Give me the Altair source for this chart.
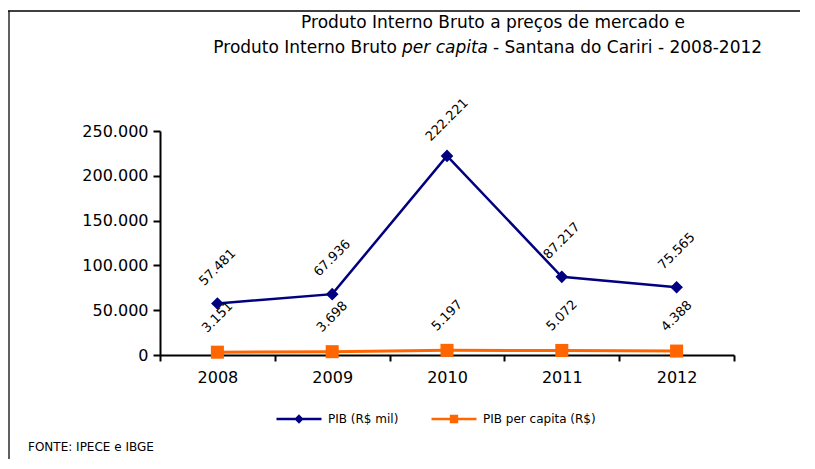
import altair as alt
import pandas as pd

years = ["2008", "2009", "2010", "2011", "2012"]
pib = [57481, 67936, 222221, 87217, 75565]
pib_pc = [3151, 3698, 5197, 5072, 4388]
y_ticks = [0, 50000, 100000, 150000, 200000, 250000]

s_pib = "PIB (R$ mil)"
s_pc = "PIB per capita (R$)"
BLUE = "#000080"
ORANGE = "#FF6600"
FONT = "DejaVu Sans"


def br(v):
    return f"{v:,}".replace(",", ".")


df = pd.DataFrame({
    "ano": years,
    "pib": pib,
    "pc": pib_pc,
    "pib_lbl": [br(v) for v in pib],
    "pc_lbl": [br(v) for v in pib_pc],
})

W, H = 574, 224

xenc = alt.X("ano:O", sort=years,
             scale=alt.Scale(type="band", paddingInner=0, paddingOuter=0),
             axis=alt.Axis(title=None, labelAngle=0, tickBand="extent",
                           domainColor="black", domainWidth=2,
                           tickColor="black", tickWidth=2, tickSize=6,
                           labelFont=FONT, labelFontSize=16, labelColor="black",
                           labelPadding=8, grid=False))
yscale = alt.Scale(domain=[0, 250000], nice=False)
yaxis = alt.Axis(title=None, values=y_ticks, grid=False,
                 labelExpr="replace(format(datum.value, ','), ',', '.')",
                 domainColor="black", domainWidth=2,
                 tickColor="black", tickWidth=2, tickSize=7,
                 labelFont=FONT, labelFontSize=16, labelColor="black",
                 labelPadding=5)

base = alt.Chart(df)

diamond_path = "M-1,0H1M0,-0.13L0.13,0L0,0.13L-0.13,0Z"
square_path = "M-1,0H1M-0.13,-0.13H0.13V0.13H-0.13Z"

line_pib = base.mark_line(strokeWidth=2.5).encode(
    x=xenc,
    y=alt.Y("pib:Q", scale=yscale, axis=yaxis),
    color=alt.Color("s:N", scale=alt.Scale(domain=[s_pib], range=[BLUE]),
                    legend=alt.Legend(title=None, orient="none", legendX=115, legendY=264,
                                      symbolType=diamond_path, symbolSize=2025,
                                      symbolStrokeWidth=2.5, symbolFillColor=BLUE,
                                      symbolStrokeColor=BLUE,
                                      labelFont=FONT, labelFontSize=12, labelColor="black",
                                      labelOffset=5)),
).transform_calculate(s=f"'{s_pib}'")

pts_pib = base.mark_point(shape="diamond", filled=True, size=160, color=BLUE, opacity=1).encode(
    x=xenc, y=alt.Y("pib:Q", scale=yscale))

txt_pib = base.mark_text(angle=315, align="center", baseline="middle", dx=25.5, dy=-25.5,
                         font=FONT, fontSize=13, color="black").encode(
    x=xenc, y=alt.Y("pib:Q", scale=yscale), text="pib_lbl:N")

line_pc = base.mark_line(strokeWidth=3).encode(
    x=xenc,
    y=alt.Y("pc:Q", scale=yscale),
    color=alt.Color("s:N", scale=alt.Scale(domain=[s_pc], range=[ORANGE]),
                    legend=alt.Legend(title=None, orient="none", legendX=270, legendY=264,
                                      symbolType=square_path, symbolSize=2025,
                                      symbolStrokeWidth=2.5, symbolFillColor=ORANGE,
                                      symbolStrokeColor=ORANGE,
                                      labelFont=FONT, labelFontSize=12, labelColor="black",
                                      labelOffset=5)),
).transform_calculate(s=f"'{s_pc}'")

pts_pc = base.mark_point(shape="square", filled=True, size=170, color=ORANGE, opacity=1).encode(
    x=xenc, y=alt.Y("pc:Q", scale=yscale))

txt_pc = base.mark_text(angle=315, align="center", baseline="middle", dx=24.7, dy=-24.7,
                        font=FONT, fontSize=13, color="black").encode(
    x=xenc, y=alt.Y("pc:Q", scale=yscale), text="pc_lbl:N")

one = alt.Chart(alt.Data(values=[{"a": 1}]))

# title lines (page x minus 160, page y minus 131)
t1 = one.mark_text(font=FONT, fontSize=17, align="center", baseline="alphabetic", color="black").encode(
    x=alt.value(333), y=alt.value(-103), text=alt.value("Produto Interno  Bruto a preços de mercado  e"))
t2a = one.mark_text(font=FONT, fontSize=17, align="right", baseline="alphabetic", color="black").encode(
    x=alt.value(237), y=alt.value(-78), text=alt.value("Produto Interno Bruto"))
t2b = one.mark_text(font=FONT, fontSize=17, fontStyle="italic", align="left", baseline="alphabetic",
                    color="black").encode(
    x=alt.value(242), y=alt.value(-78), text=alt.value("per capita"))
t2c = one.mark_text(font=FONT, fontSize=17, align="left", baseline="alphabetic", color="black").encode(
    x=alt.value(333), y=alt.value(-78), text=alt.value("- Santana  do Cariri - 2008-2012"))
fonte = one.mark_text(font=FONT, fontSize=12, align="left", baseline="middle", color="black").encode(
    x=alt.value(-132), y=alt.value(316), text=alt.value("FONTE: IPECE e IBGE"))

frame_left = one.mark_rule(color="#606060", strokeWidth=2).encode(
    x=alt.value(-151), y=alt.value(-120), y2=alt.value(330))
frame_top = one.mark_rule(color="black", strokeWidth=1.5).encode(
    x=alt.value(-152), x2=alt.value(640), y=alt.value(-120))

chart = alt.layer(
    frame_left, frame_top,
    line_pc, line_pib, pts_pc, pts_pib, txt_pib, txt_pc,
    t1, t2a, t2b, t2c, fonte,
).resolve_scale(color="independent").properties(
    width=W, height=H,
    autosize=alt.AutoSizeParams(type="none"),
    padding={"left": 152, "top": 123, "right": 72, "bottom": 104},
    background="white",
).configure_view(stroke=None)

chart.save("out.html", embed_options={"renderer": "svg", "actions": False})
